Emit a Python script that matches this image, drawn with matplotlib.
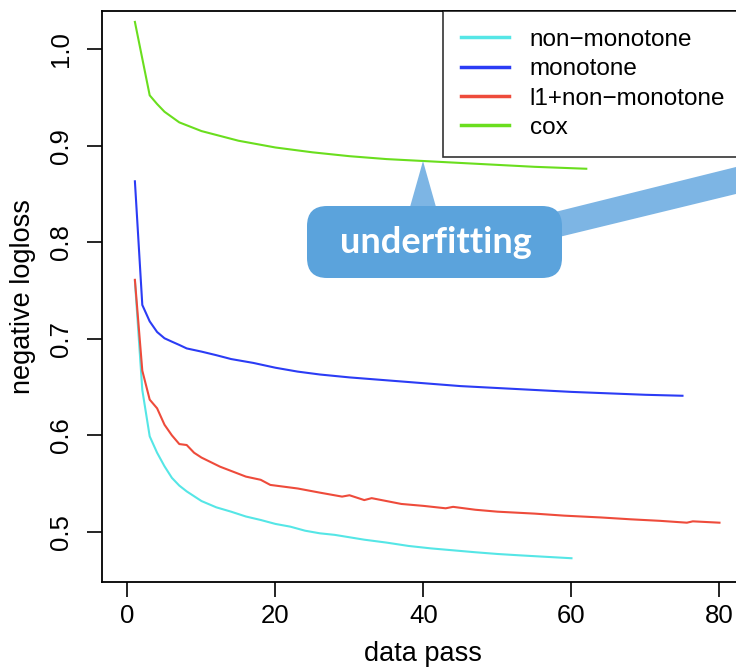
import matplotlib
matplotlib.use("Agg")
import matplotlib.pyplot as plt
from matplotlib.patches import FancyBboxPatch, Polygon

plt.rcParams['font.family'] = ['Liberation Sans', 'DejaVu Sans']

# ---- data ----
x_nonmono = [1, 2, 3, 4, 5, 6, 7, 8, 9, 10, 12, 14, 16, 18, 20, 22, 24, 26,
             28, 30, 32, 35, 38, 41, 44, 47, 50, 53, 56, 60]
y_nonmono = [0.760, 0.647, 0.599, 0.582, 0.568, 0.556, 0.548, 0.542, 0.537,
             0.532, 0.5255, 0.521, 0.516, 0.5124, 0.5083, 0.5055, 0.5013,
             0.4986, 0.497, 0.4945, 0.492, 0.489, 0.4855, 0.483, 0.481,
             0.479, 0.4772, 0.4758, 0.4745, 0.4728]

x_mono = [1, 2, 3, 4, 5, 6, 7, 8, 10, 12, 14, 17, 20, 23, 26, 30, 35, 40,
          45, 50, 55, 60, 65, 70, 75]
y_mono = [0.863, 0.735, 0.718, 0.707, 0.7005, 0.697, 0.6936, 0.690, 0.6867,
          0.6830, 0.679, 0.675, 0.670, 0.666, 0.663, 0.660, 0.657, 0.654,
          0.651, 0.649, 0.647, 0.645, 0.6435, 0.642, 0.641]

x_l1 = [1, 2, 3, 4, 5, 6, 7, 8, 9, 10, 12.5, 16, 18, 19.3, 23, 26, 29, 30,
        32, 33, 37, 40, 43, 44, 47, 50, 55, 59, 64, 68, 72, 75.6, 76.4, 80]
y_l1 = [0.761, 0.667, 0.637, 0.628, 0.611, 0.600, 0.591, 0.590, 0.582, 0.577,
        0.5676, 0.5573, 0.5540, 0.5487, 0.545, 0.5407, 0.5366, 0.538, 0.533,
        0.535, 0.529, 0.527, 0.5245, 0.526, 0.523, 0.521, 0.519, 0.5169,
        0.515, 0.5131, 0.5115, 0.5096, 0.511, 0.5096]

x_cox = [1, 2, 3, 4, 5, 7, 10, 15, 20, 25, 30, 35, 40, 45, 50, 55, 62]
y_cox = [1.028, 0.990, 0.952, 0.943, 0.935, 0.924, 0.915, 0.905, 0.898,
         0.893, 0.889, 0.886, 0.884, 0.882, 0.880, 0.878, 0.876]

labels = ["non\u2212monotone", "monotone", "l1+non\u2212monotone", "cox"]
colors = ["#55E6E6", "#2B3CF5", "#EE4B3B", "#6ADE1E"]
x_ticks = [0, 20, 40, 60, 80]
y_ticks = [0.5, 0.6, 0.7, 0.8, 0.9, 1.0]

W, H = 736, 672
fig = plt.figure(figsize=(W / 100, H / 100), dpi=100)
ax = fig.add_axes([102 / W, 1 - 582 / H, (743 - 102) / W, (582 - 11) / H])

series = [(x_nonmono, y_nonmono), (x_mono, y_mono), (x_l1, y_l1), (x_cox, y_cox)]
for (xs, ys), lab, c in zip(series, labels, colors):
    ax.plot(xs, ys, color=c, lw=1.5, label=lab)

ax.set_xlim(-3.446, 83.18)
ax.set_ylim(0.4482, 1.0393)
ax.set_xticks(x_ticks)
ax.set_yticks(y_ticks)
ax.set_yticklabels([f"{v:.1f}" for v in y_ticks], rotation=90, va='center')
ax.tick_params(axis='both', direction='out', length=11, width=1.2,
               labelsize=18.5, color='black')
ax.tick_params(axis='x', pad=5)
ax.tick_params(axis='y', pad=10)
for s in ax.spines.values():
    s.set_linewidth(1.3)
ax.set_xlabel("data pass", fontsize=19.5, labelpad=9)
ax.set_ylabel("negative logloss", fontsize=19.5, labelpad=9)

leg = ax.legend(loc='upper right', bbox_to_anchor=(1.0, 1.0), borderaxespad=0,
                fancybox=False, frameon=True, edgecolor='black', fontsize=17.5,
                handlelength=1.95, handletextpad=0.85, labelspacing=0.3,
                borderpad=0.74)
leg.get_frame().set_linewidth(1.2)
for ln in leg.get_lines():
    ln.set_linewidth(2.5)

# ---- callout ----
def fx(px):
    return px / W

def fy(py):
    return 1 - py / H

box_col = "#5BA3DC"
ptr_col = "#7DB5E4"
tri = Polygon([(fx(410), fy(207)), (fx(423), fy(161)), (fx(436), fy(207))],
              closed=True, transform=fig.transFigure, facecolor=ptr_col,
              edgecolor='none', zorder=5)
wedge = Polygon([(fx(555), fy(212)), (fx(740), fy(166)), (fx(740), fy(193)),
                 (fx(555), fy(238))],
                closed=True, transform=fig.transFigure, facecolor=ptr_col,
                edgecolor='none', zorder=5)
fig.patches.extend([tri, wedge])
r = 20
bx = FancyBboxPatch((fx(307 + r), fy(278 - r)), fx(562 - 307 - 2 * r),
                    (278 - 206 - 2 * r) / H,
                    boxstyle=f"round,pad={r / W},rounding_size={r / W}",
                    transform=fig.transFigure, facecolor=box_col,
                    edgecolor='none', zorder=6, mutation_aspect=W / H)
fig.patches.append(bx)
fig.text(fx(436), fy(243), "underfitting", color='white', fontsize=26,
         family=['Lato', 'DejaVu Sans'], fontweight='bold', ha='center',
         va='center', zorder=7)

fig.savefig("out.png", dpi=100)
